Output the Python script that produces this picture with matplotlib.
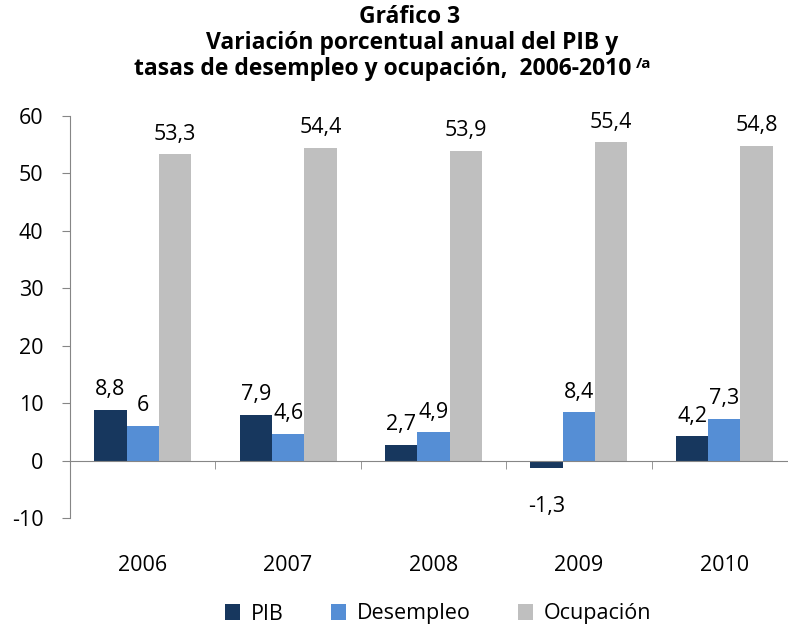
import matplotlib
matplotlib.use("Agg")
import matplotlib.pyplot as plt
import numpy as np

plt.rcParams['font.family'] = ['Open Sans', 'DejaVu Sans']
plt.rcParams['axes.unicode_minus'] = False

years = ['2006', '2007', '2008', '2009', '2010']
series_names = ['PIB', 'Desempleo', 'Ocupación']
pib = [8.8, 7.9, 2.7, -1.3, 4.2]
desempleo = [6.0, 4.6, 4.9, 8.4, 7.3]
ocupacion = [53.3, 54.4, 53.9, 55.4, 54.8]
colors = ['#17375E', '#558ED5', '#BFBFBF']

def fmt(v):
    return '{:g}'.format(v).replace('.', ',')

fig = plt.figure(figsize=(7.88, 6.30), dpi=100)
ax = fig.add_axes([70 / 788, 112 / 630, 727 / 788, 402 / 630])

x = np.arange(len(years))
w = 0.222
for i, (vals, name, col) in enumerate(zip([pib, desempleo, ocupacion], series_names, colors)):
    pos = x + (i - 1) * w
    ax.bar(pos, vals, width=w, color=col, label=name, zorder=2)
    for p, v in zip(pos, vals):
        if v >= 0:
            ax.annotate(fmt(v), (p, v), xytext=(0, 7), textcoords='offset points',
                        ha='center', va='bottom', fontsize=15.5)
        else:
            ax.annotate(fmt(v), (p, v), xytext=(0, -20), textcoords='offset points',
                        ha='center', va='top', fontsize=15.5)

ax.set_xlim(-0.5, len(years) - 0.5)
ax.set_ylim(-10, 60)
ax.set_yticks(range(-10, 61, 10))

grey = '#868686'
for s in ['top', 'right']:
    ax.spines[s].set_visible(False)
ax.spines['left'].set_color(grey)
ax.spines['bottom'].set_position(('data', 0))
ax.spines['bottom'].set_color(grey)
ax.spines['bottom'].set_zorder(3)

ax.set_xticks(x)
ax.set_xticklabels(years)
ax.set_xticks(np.arange(0.5, len(years) - 0.5, 1), minor=True)
ax.tick_params(axis='x', which='major', length=0, pad=68, labelsize=15.5)
ax.tick_params(axis='x', which='minor', length=6, direction='out', color=grey)
ax.tick_params(axis='y', length=6, direction='out', color=grey, pad=13, labelsize=15.5)

fig.text(410 / 788, 1 - 17 / 630, 'Gráfico 3', ha='center', va='center',
         fontsize=16.5, fontweight='bold')
fig.text(412 / 788, 1 - 43 / 630, 'Variación porcentual anual del PIB y', ha='center',
         va='center', fontsize=16.5, fontweight='bold')
t3 = fig.text(383 / 788, 1 - 69 / 630, 'tasas de desempleo y ocupación,  2006-2010',
              ha='center', va='center', fontsize=16.5, fontweight='bold')
ax.annotate('/a', xy=(1, 1), xycoords=t3, xytext=(3, 0), textcoords='offset points',
            ha='left', va='top', fontsize=11, fontweight='bold', annotation_clip=False)

fig.legend(loc='center', bbox_to_anchor=(438 / 788, 16 / 630), ncol=3, frameon=False,
           handlelength=0.7, handleheight=0.7, columnspacing=2.2, handletextpad=0.5,
           fontsize=15.5)

fig.savefig('out.png', dpi=100)
